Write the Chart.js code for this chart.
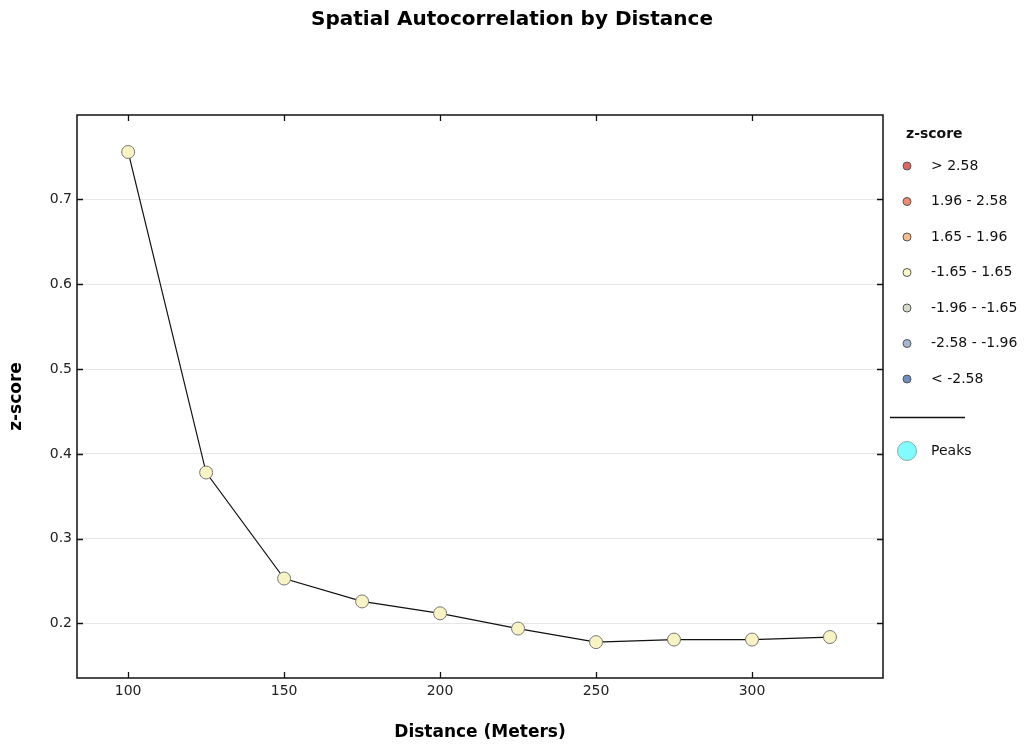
<!DOCTYPE html>
<html>
<head>
<meta charset="utf-8">
<script src="https://cdn.jsdelivr.net/npm/chart.js"></script>
<style>
  body { margin: 0; background: #fff; }
  #wrap { width: 1024px; height: 747px; }
</style>
</head>
<body>
<div id="wrap"><canvas id="zChart" width="1024" height="747"></canvas></div>
<script>
const distances = [100, 125, 150, 175, 200, 225, 250, 275, 300, 325];
const zScores = [0.756, 0.378, 0.253, 0.226, 0.212, 0.194, 0.178, 0.181, 0.181, 0.184];
const xTicks = [100, 150, 200, 250, 300];
const yTicks = [0.2, 0.3, 0.4, 0.5, 0.6, 0.7];
const legendLabels = ['> 2.58', '1.96 - 2.58', '1.65 - 1.96', '-1.65 - 1.65', '-1.96 - -1.65', '-2.58 - -1.96', '< -2.58'];
const legendColors = ['#de675f', '#f08a6c', '#f7bd8e', '#f9f7c6', '#d6dccd', '#a5b6cf', '#6d8fc0'];

const FONT = '"DejaVu Sans", Verdana, sans-serif';

// frame round the plot + inward tick marks on all four sides
const frameTicks = {
    id: 'frameTicks',
    afterDraw(chart) {
        const ctx = chart.ctx;
        const a = chart.chartArea;
        const xs = chart.scales.x, ys = chart.scales.y;
        ctx.save();
        ctx.strokeStyle = '#111';
        ctx.lineWidth = 1.5;
        ctx.strokeRect(a.left, a.top, a.right - a.left, a.bottom - a.top);
        ctx.lineWidth = 1.3;
        ctx.beginPath();
        xTicks.forEach(v => {
            const px = Math.round(xs.getPixelForValue(v)) + 0.5;
            ctx.moveTo(px, a.bottom); ctx.lineTo(px, a.bottom - 6);
            ctx.moveTo(px, a.top); ctx.lineTo(px, a.top + 6);
        });
        yTicks.forEach(v => {
            const py = Math.round(ys.getPixelForValue(v)) + 0.5;
            ctx.moveTo(a.left, py); ctx.lineTo(a.left + 6, py);
            ctx.moveTo(a.right, py); ctx.lineTo(a.right - 6, py);
        });
        ctx.stroke();
        ctx.restore();
    }
};

// legend on the right side
const sideLegend = {
    id: 'sideLegend',
    afterDraw(chart) {
        const ctx = chart.ctx;
        ctx.save();
        ctx.textBaseline = 'middle';
        ctx.fillStyle = '#111';
        ctx.font = 'bold 14px ' + FONT;
        ctx.fillText('z-score', 906, 134);
        ctx.font = '14px ' + FONT;
        legendLabels.forEach((lbl, i) => {
            const y = 166 + i * 35.5;
            ctx.beginPath();
            ctx.arc(907, y, 4, 0, Math.PI * 2);
            ctx.fillStyle = legendColors[i];
            ctx.fill();
            ctx.strokeStyle = '#555';
            ctx.lineWidth = 1;
            ctx.stroke();
            ctx.fillStyle = '#111';
            ctx.fillText(lbl, 931, y);
        });
        ctx.beginPath();
        ctx.moveTo(890, 417.5); ctx.lineTo(965, 417.5);
        ctx.strokeStyle = '#111';
        ctx.lineWidth = 1.3;
        ctx.stroke();
        ctx.beginPath();
        ctx.arc(907, 451, 9.5, 0, Math.PI * 2);
        ctx.fillStyle = '#80fcff';
        ctx.fill();
        ctx.strokeStyle = '#8aa';
        ctx.lineWidth = 1;
        ctx.stroke();
        ctx.fillStyle = '#111';
        ctx.fillText('Peaks', 931, 451);
        ctx.restore();
    }
};

const ctx1 = document.getElementById('zChart').getContext('2d');
const zChart = new Chart(ctx1, {
    type: 'line',
    data: {
        datasets: [{
            label: 'z-score',
            data: distances.map((d, i) => ({ x: d, y: zScores[i] })),
            borderColor: '#111',
            borderWidth: 1.2,
            pointRadius: 6.5,
            pointBackgroundColor: '#f7f3c3',
            pointBorderColor: '#777',
            pointBorderWidth: 1,
            tension: 0,
            clip: false
        }]
    },
    options: {
        responsive: false,
        animation: false,
        layout: { padding: 0 },
        plugins: {
            legend: { display: false },
            tooltip: { enabled: false },
            title: {
                display: true,
                text: 'Spatial Autocorrelation by Distance',
                color: '#000',
                font: { family: FONT, size: 20, weight: 'bold' },
                padding: { top: 8, bottom: 83 }
            }
        },
        scales: {
            x: {
                type: 'linear',
                min: 83.6,
                max: 342,
                afterBuildTicks: s => { s.ticks = xTicks.map(v => ({ value: v })); },
                afterFit: s => { s.height = 69; },
                grid: { display: false, drawTicks: false },
                border: { display: false },
                ticks: { color: '#222', padding: 5, font: { family: FONT, size: 14 } },
                title: {
                    display: true,
                    text: 'Distance (Meters)',
                    color: '#000',
                    font: { family: FONT, size: 17, weight: 'bold' },
                    padding: { top: 4, bottom: 4 }
                }
            },
            y: {
                min: 0.1357,
                max: 0.7996,
                afterBuildTicks: s => { s.ticks = yTicks.map(v => ({ value: v })); },
                afterFit: s => { s.width = 77; },
                grid: { color: '#e6e6e6', drawTicks: false, lineWidth: 1 },
                border: { display: false },
                ticks: {
                    color: '#222', padding: 5,
                    font: { family: FONT, size: 14 },
                    callback: v => v.toFixed(1)
                },
                title: {
                    display: true,
                    text: 'z-score',
                    color: '#000',
                    font: { family: FONT, size: 17, weight: 'bold' },
                    padding: { top: 6, bottom: 0 }
                }
            },
            // empty right-hand axis that only reserves room for the legend
            side: {
                position: 'right',
                afterFit: s => { s.width = 141; },
                grid: { display: false, drawTicks: false },
                border: { display: false },
                ticks: { display: false }
            }
        }
    },
    plugins: [frameTicks, sideLegend]
});
</script>
</body>
</html>
